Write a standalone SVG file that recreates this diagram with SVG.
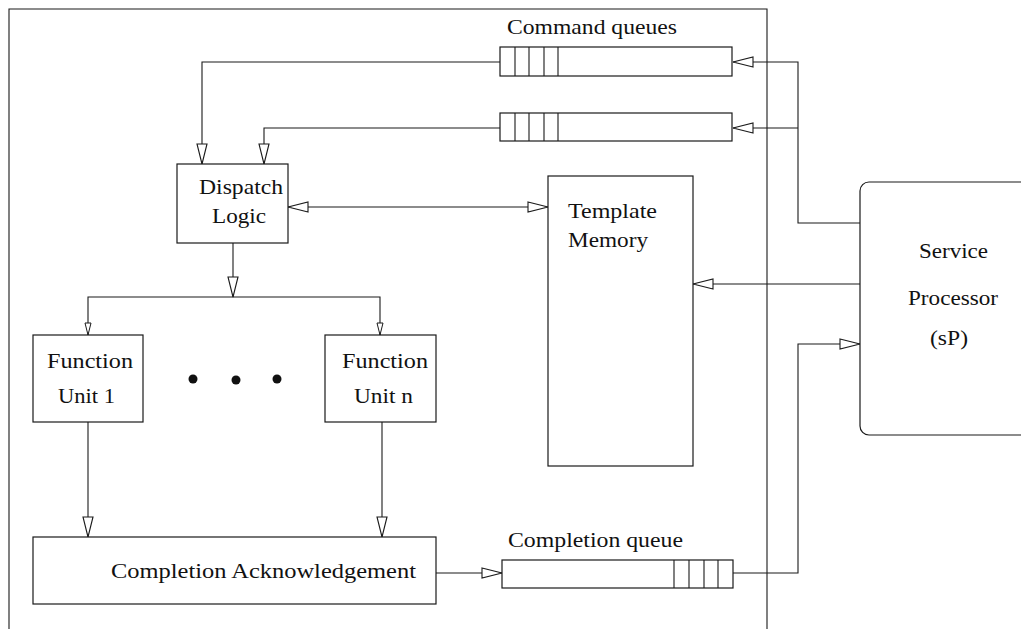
<svg xmlns="http://www.w3.org/2000/svg" width="1021" height="629" viewBox="0 0 1021 629">
<style>
.b{fill:#fff;stroke:#1a1a1a;stroke-width:1.2}
.c{fill:none;stroke:#1a1a1a;stroke-width:1.1}
.t{font-family:"Liberation Serif","Times New Roman",serif;font-size:22px;fill:#111}
.dot{fill:#111}
</style>
<defs>
<marker id="ah" markerUnits="userSpaceOnUse" markerWidth="22" markerHeight="12" refX="20" refY="5.5" orient="auto-start-reverse" viewBox="-1 0 22 11">
<path d="M0,0.5 L20,5.5 L0,10.5 Z" fill="#fff" stroke="#1a1a1a" stroke-width="1.1"/>
</marker>
<marker id="as" markerUnits="userSpaceOnUse" markerWidth="14" markerHeight="8" refX="12" refY="3.5" orient="auto" viewBox="-1 0 14 7">
<path d="M0,0.5 L12,3.5 L0,6.5 Z" fill="#fff" stroke="#1a1a1a" stroke-width="1"/>
</marker>
</defs>
<rect width="1021" height="629" fill="#fff"/>
<g id="frame"><path class="c" d="M9,629 V9 H767 V629"/></g>
<g id="connectors">
<path class="c" d="M500,62 H202 V164" marker-end="url(#ah)"/>
<path class="c" d="M500,128 H264 V164" marker-end="url(#ah)"/>
<path class="c" d="M860,223 H798 V62 H733" marker-end="url(#ah)"/>
<path class="c" d="M798,128 H733" marker-end="url(#ah)"/>
<path class="c" d="M288,207 H548" marker-start="url(#ah)" marker-end="url(#ah)"/>
<path class="c" d="M860,284 H693" marker-end="url(#ah)"/>
<path class="c" d="M233,243 V297" marker-end="url(#ah)"/>
<path class="c" d="M233,297 H88 V335" marker-end="url(#as)"/>
<path class="c" d="M233,297 H380 V335" marker-end="url(#as)"/>
<path class="c" d="M88,422 V537" marker-end="url(#ah)"/>
<path class="c" d="M382,422 V537" marker-end="url(#ah)"/>
<path class="c" d="M436,573 H502" marker-end="url(#ah)"/>
<path class="c" d="M733,573 H798 V344 H860" marker-end="url(#ah)"/>
</g>
<g id="command-queue-1">
<rect class="b" x="500" y="47" width="232" height="29"/>
<path class="c" d="M515,47 V76 M529,47 V76 M544,47 V76 M558,47 V76"/>
</g>
<g id="command-queue-2">
<rect class="b" x="500" y="113" width="232" height="28"/>
<path class="c" d="M515,113 V141 M529,113 V141 M544,113 V141 M558,113 V141"/>
</g>
<text class="t" x="507" y="34" textLength="170" lengthAdjust="spacingAndGlyphs">Command queues</text>
<g id="dispatch-logic">
<rect class="b" x="177" y="164" width="111" height="79"/>
<text class="t" x="199" y="194" textLength="84" lengthAdjust="spacingAndGlyphs">Dispatch</text>
<text class="t" x="212" y="223" textLength="54" lengthAdjust="spacingAndGlyphs">Logic</text>
</g>
<g id="template-memory">
<rect class="b" x="548" y="176" width="145" height="290"/>
<text class="t" x="568" y="218" textLength="89" lengthAdjust="spacingAndGlyphs">Template</text>
<text class="t" x="568" y="247" textLength="80" lengthAdjust="spacingAndGlyphs">Memory</text>
</g>
<g id="service-processor">
<rect class="b" x="860" y="182" width="200" height="253" rx="9"/>
<text class="t" x="919" y="258" textLength="69" lengthAdjust="spacingAndGlyphs">Service</text>
<text class="t" x="908" y="305" textLength="90" lengthAdjust="spacingAndGlyphs">Processor</text>
<text class="t" x="930" y="345" textLength="38" lengthAdjust="spacingAndGlyphs">(sP)</text>
</g>
<g id="function-unit-1">
<rect class="b" x="33" y="335" width="110" height="87"/>
<text class="t" x="47" y="368" textLength="86" lengthAdjust="spacingAndGlyphs">Function</text>
<text class="t" x="58" y="403" textLength="57" lengthAdjust="spacingAndGlyphs">Unit 1</text>
</g>
<g id="ellipsis">
<circle class="dot" cx="193" cy="379" r="4.5"/>
<circle class="dot" cx="236" cy="380" r="4.5"/>
<circle class="dot" cx="277" cy="379" r="4.5"/>
</g>
<g id="function-unit-n">
<rect class="b" x="325" y="335" width="111" height="87"/>
<text class="t" x="342" y="368" textLength="86" lengthAdjust="spacingAndGlyphs">Function</text>
<text class="t" x="354" y="403" textLength="59" lengthAdjust="spacingAndGlyphs">Unit n</text>
</g>
<g id="completion-ack">
<rect class="b" x="33" y="537" width="403" height="67"/>
<text class="t" x="111" y="578" textLength="305" lengthAdjust="spacingAndGlyphs">Completion Acknowledgement</text>
</g>
<g id="completion-queue">
<rect class="b" x="502" y="560" width="231" height="28"/>
<path class="c" d="M674,560 V588 M689,560 V588 M704,560 V588 M718,560 V588"/>
</g>
<text class="t" x="508" y="547" textLength="175" lengthAdjust="spacingAndGlyphs">Completion queue</text>
</svg>
